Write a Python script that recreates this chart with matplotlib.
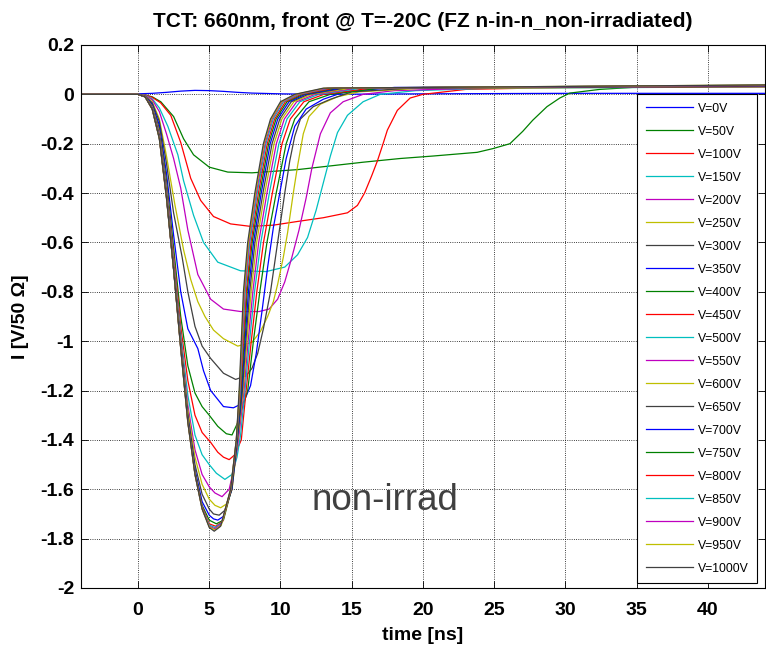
import matplotlib
matplotlib.use("Agg")
import matplotlib.pyplot as plt
from matplotlib.ticker import FormatStrFormatter

plt.rcParams['font.family'] = ['Liberation Sans', 'DejaVu Sans']
plt.rcParams['axes.unicode_minus'] = False

# bias voltages (legend) and the traces: time [ns], current [V/50 Ohm]
voltages = [0, 50, 100, 150, 200, 250, 300, 350, 400, 450, 500,
            550, 600, 650, 700, 750, 800, 850, 900, 950, 1000]

t_0 = [-4, 0, 1, 2, 3, 4, 5, 6, 7, 8, 10, 13, 20, 30, 44]
i_0 = [0.002, 0.002, 0.004, 0.008, 0.013, 0.016, 0.015, 0.012, 0.008, 0.005, 0.002, 0.0, 0.002, 0.004, 0.004]

t_50 = [-4, 0, 0.5, 1.0, 1.6, 2.5, 3.2, 3.9, 5.0, 6.3, 8.0, 11.2, 15.8, 18.4, 20.7, 23.8, 24.9, 26.1, 27.0, 27.7, 28.7, 29.6, 30.3, 32.4, 34.7, 44]
i_50 = [0, 0, -0.003, -0.01, -0.03, -0.09, -0.18, -0.245, -0.295, -0.315, -0.318, -0.305, -0.275, -0.26, -0.25, -0.235, -0.22, -0.2, -0.15, -0.105, -0.05, -0.015, 0.005, 0.02, 0.028, 0.032]

t_100 = [-4, 0, 0.5, 1.0, 1.6, 2.3, 3.0, 3.7, 4.4, 5.3, 6.5, 7.9, 9.5, 11.2, 13.0, 14.7, 15.4, 15.9, 16.4, 16.8, 17.2, 17.5, 18.2, 19.1, 20.0, 23.0, 30.0, 44]
i_100 = [0, 0, -0.003, -0.012, -0.035, -0.085, -0.195, -0.34, -0.43, -0.495, -0.525, -0.535, -0.53, -0.515, -0.5, -0.48, -0.45, -0.4, -0.33, -0.27, -0.2, -0.145, -0.065, -0.015, 0.0, 0.02, 0.028, 0.032]

t_150 = [-4, 0, 0.5, 1.0, 1.5, 2.1, 2.8, 3.2, 3.9, 4.6, 5.6, 7.2, 9.0, 10.3, 11.2, 11.9, 12.5, 13.0, 13.5, 14.0, 14.7, 15.8, 17.0, 19.5, 25, 44]
i_150 = [0, 0, -0.004, -0.018, -0.055, -0.13, -0.245, -0.35, -0.49, -0.6, -0.68, -0.715, -0.718, -0.7, -0.65, -0.58, -0.47, -0.36, -0.25, -0.155, -0.085, -0.03, 0.0, 0.015, 0.025, 0.03]

t_200 = [-4, 0, 0.5, 1.0, 1.5, 2.0, 2.5, 3.0, 3.5, 4.2, 5.1, 6.0, 7.2, 8.5, 9.2, 9.8, 10.3, 10.8, 11.3, 11.8, 12.2, 12.8, 13.5, 14.4, 15.8, 18, 25, 44]
i_200 = [0, 0, -0.005, -0.022, -0.07, -0.16, -0.26, -0.38, -0.55, -0.73, -0.83, -0.87, -0.88, -0.88, -0.87, -0.83, -0.76, -0.66, -0.55, -0.42, -0.3, -0.16, -0.075, -0.03, 0.0, 0.015, 0.027, 0.03]

t_250 = [-4, 0, 0.5, 1.0, 1.5, 2.0, 2.6, 3.2, 3.7, 4.2, 4.7, 5.3, 6.0, 7.0, 8.0, 8.6, 9.1, 9.5, 9.8, 10.2, 10.5, 10.9, 11.2, 11.6, 12.0, 12.8, 14.0, 15.5, 20, 44]
i_250 = [0, 0, -0.006, -0.03, -0.1, -0.25, -0.45, -0.63, -0.75, -0.84, -0.9, -0.955, -0.99, -1.02, -1.005, -0.96, -0.9, -0.84, -0.77, -0.66, -0.56, -0.4, -0.29, -0.16, -0.09, -0.04, -0.01, 0.01, 0.025, 0.03]

t_300 = [-4, 0, 0.5, 1.0, 1.5, 2.0, 2.5, 3.1, 3.5, 4.0, 4.5, 5.1, 6.0, 6.85, 7.6, 8.0, 8.4, 8.8, 9.3, 9.9, 10.3, 10.65, 11.0, 11.4, 12.3, 13.5, 15, 20, 44]
i_300 = [0, 0, -0.007, -0.035, -0.11, -0.28, -0.48, -0.66, -0.8, -0.94, -1.02, -1.07, -1.13, -1.155, -1.14, -1.11, -1.05, -0.95, -0.8, -0.56, -0.4, -0.27, -0.17, -0.1, -0.05, -0.02, 0.01, 0.028, 0.032]

t_350 = [-4, 0, 0.5, 1.0, 1.5, 2.0, 2.5, 3.0, 3.5, 4.2, 4.6, 5.1, 6.0, 6.7, 7.4, 7.9, 8.3, 8.7, 9.1, 9.5, 9.95, 10.4, 11.0, 11.8, 13.0, 14.5, 18, 44]
i_350 = [0, 0, -0.008, -0.04, -0.125, -0.32, -0.57, -0.8, -0.95, -1.03, -1.12, -1.2, -1.265, -1.27, -1.25, -1.18, -1.05, -0.88, -0.7, -0.54, -0.4, -0.26, -0.13, -0.06, -0.02, 0.01, 0.028, 0.032]

t_400 = [-4, 0, 0.5, 1.0, 1.5, 2.0, 2.5, 3.0, 3.5, 4.0, 4.5, 5.0, 5.6, 6.2, 6.6, 7.0, 7.7, 8.1, 8.55, 9.05, 9.7, 10.4, 11.0, 12.0, 13.5, 17.0, 44]
i_400 = [0, 0, -0.009, -0.045, -0.14, -0.35, -0.62, -0.9, -1.1, -1.21, -1.265, -1.3, -1.345, -1.375, -1.38, -1.33, -1.2, -1.0, -0.8, -0.6, -0.4, -0.2, -0.1, -0.03, 0.0, 0.025, 0.033]

t_450 = [-4, 0, 0.5, 1.0, 1.5, 2.0, 2.5, 3.0, 3.5, 4.0, 4.5, 5.1, 5.6, 6.0, 6.4, 6.8, 7.25, 7.59, 7.95, 8.34, 8.81, 9.43, 10.11, 10.69, 11.64, 13.05, 16.3, 44]
i_450 = [0, 0, -0.009, -0.048, -0.15, -0.37, -0.65, -0.94, -1.16, -1.3, -1.37, -1.41, -1.45, -1.47, -1.48, -1.46, -1.4, -1.2, -1.0, -0.8, -0.6, -0.4, -0.2, -0.1, -0.03, 0.0, 0.025, 0.033]

t_500 = [-4, 0, 0.5, 1.0, 1.5, 2.0, 2.5, 3.0, 3.5, 4.0, 4.5, 5.0, 5.5, 6.1, 6.6, 6.95, 7.2, 7.51, 7.83, 8.18, 8.62, 9.22, 9.89, 10.46, 11.36, 12.7, 15.7, 44]
i_500 = [0, 0, -0.01, -0.05, -0.155, -0.38, -0.67, -0.97, -1.22, -1.38, -1.46, -1.5, -1.535, -1.56, -1.54, -1.47, -1.38, -1.2, -1.0, -0.8, -0.6, -0.4, -0.2, -0.1, -0.03, 0.0, 0.025, 0.034]

t_550 = [-4, 0, 0.5, 1.0, 1.5, 2.0, 2.5, 3.0, 3.5, 4.0, 4.5, 5.0, 5.4, 5.9, 6.4, 6.8, 7.05, 7.44, 7.73, 8.06, 8.47, 9.05, 9.71, 10.27, 11.14, 12.43, 15.3, 44]
i_550 = [0, 0, -0.01, -0.052, -0.16, -0.39, -0.68, -0.99, -1.26, -1.44, -1.54, -1.59, -1.615, -1.63, -1.6, -1.5, -1.4, -1.2, -1.0, -0.8, -0.6, -0.4, -0.2, -0.1, -0.03, 0.0, 0.025, 0.034]

t_600 = [-4, 0, 0.5, 1.0, 1.5, 2.0, 2.5, 3.0, 3.5, 4.0, 4.5, 5.0, 5.4, 5.8, 6.2, 6.6, 7.0, 7.38, 7.65, 7.94, 8.33, 8.9, 9.55, 10.1, 10.94, 12.18, 14.9, 44]
i_600 = [0, 0, -0.01, -0.054, -0.165, -0.4, -0.69, -1.0, -1.28, -1.47, -1.58, -1.64, -1.665, -1.675, -1.66, -1.6, -1.4, -1.2, -1.0, -0.8, -0.6, -0.4, -0.2, -0.1, -0.03, 0.0, 0.025, 0.035]

t_650 = [-4, 0, 0.5, 1.0, 1.5, 2.0, 2.5, 3.0, 3.5, 4.0, 4.5, 5.0, 5.3, 5.7, 6.1, 6.6, 6.98, 7.33, 7.57, 7.84, 8.21, 8.77, 9.41, 9.95, 10.76, 11.95, 14.5, 44]
i_650 = [0, 0, -0.01, -0.056, -0.17, -0.405, -0.7, -1.01, -1.3, -1.5, -1.62, -1.68, -1.7, -1.705, -1.685, -1.6, -1.4, -1.2, -1.0, -0.8, -0.6, -0.4, -0.2, -0.1, -0.03, 0.0, 0.025, 0.035]

t_700 = [-4, 0, 0.5, 1.0, 1.5, 2.0, 2.5, 3.0, 3.5, 4.0, 4.5, 5.0, 5.3, 5.6, 6.0, 6.58, 6.96, 7.28, 7.51, 7.75, 8.11, 8.65, 9.28, 9.81, 10.6, 11.75, 14.2, 44]
i_700 = [0, 0, -0.01, -0.057, -0.172, -0.41, -0.705, -1.015, -1.31, -1.52, -1.65, -1.705, -1.72, -1.725, -1.71, -1.6, -1.4, -1.2, -1.0, -0.8, -0.6, -0.4, -0.2, -0.1, -0.03, 0.0, 0.025, 0.035]

t_750 = [-4, 0, 0.5, 1.0, 1.5, 2.0, 2.5, 3.0, 3.5, 4.0, 4.5, 5.0, 5.5, 6.0, 6.56, 6.94, 7.24, 7.45, 7.66, 8.01, 8.55, 9.17, 9.69, 10.46, 11.58, 13.9, 44]
i_750 = [0, 0, -0.01, -0.058, -0.174, -0.412, -0.707, -1.02, -1.315, -1.53, -1.665, -1.725, -1.74, -1.725, -1.6, -1.4, -1.2, -1.0, -0.8, -0.6, -0.4, -0.2, -0.1, -0.03, 0.0, 0.025, 0.036]

t_800 = [-4, 0, 0.5, 1.0, 1.5, 2.0, 2.5, 3.0, 3.5, 4.0, 4.5, 5.0, 5.45, 5.95, 6.54, 6.92, 7.2, 7.39, 7.6, 7.93, 8.45, 9.07, 9.59, 10.34, 11.43, 13.7, 44]
i_800 = [0, 0, -0.01, -0.059, -0.176, -0.415, -0.708, -1.025, -1.32, -1.535, -1.67, -1.74, -1.75, -1.73, -1.6, -1.4, -1.2, -1.0, -0.8, -0.6, -0.4, -0.2, -0.1, -0.03, 0.0, 0.025, 0.036]

t_850 = [-4, 0, 0.5, 1.0, 1.5, 2.0, 2.5, 3.0, 3.5, 4.0, 4.5, 5.0, 5.4, 5.9, 6.52, 6.91, 7.17, 7.34, 7.53, 7.85, 8.37, 8.98, 9.49, 10.22, 11.28, 13.4, 44]
i_850 = [0, 0, -0.01, -0.059, -0.178, -0.417, -0.709, -1.027, -1.325, -1.538, -1.675, -1.745, -1.755, -1.735, -1.6, -1.4, -1.2, -1.0, -0.8, -0.6, -0.4, -0.2, -0.1, -0.03, 0.0, 0.025, 0.037]

t_900 = [-4, 0, 0.5, 1.0, 1.5, 2.0, 2.5, 3.0, 3.5, 4.0, 4.5, 5.0, 5.4, 5.85, 6.51, 6.9, 7.14, 7.31, 7.48, 7.79, 8.3, 8.91, 9.41, 10.13, 11.17, 13.3, 44]
i_900 = [0, 0, -0.01, -0.06, -0.179, -0.419, -0.71, -1.028, -1.328, -1.54, -1.678, -1.75, -1.76, -1.74, -1.6, -1.4, -1.2, -1.0, -0.8, -0.6, -0.4, -0.2, -0.1, -0.03, 0.0, 0.025, 0.037]

t_950 = [-4, 0, 0.5, 1.0, 1.5, 2.0, 2.5, 3.0, 3.5, 4.0, 4.5, 5.0, 5.4, 5.85, 6.5, 6.9, 7.12, 7.28, 7.44, 7.75, 8.25, 8.85, 9.36, 10.07, 11.08, 13.1, 44]
i_950 = [0, 0, -0.01, -0.06, -0.18, -0.42, -0.71, -1.03, -1.33, -1.54, -1.68, -1.752, -1.765, -1.745, -1.6, -1.4, -1.2, -1.0, -0.8, -0.6, -0.4, -0.2, -0.1, -0.03, 0.0, 0.025, 0.038]

t_1000 = [-4, 0, 0.5, 1.0, 1.5, 2.0, 2.5, 3.0, 3.5, 4.0, 4.5, 5.0, 5.35, 5.8, 6.5, 6.9, 7.1, 7.25, 7.4, 7.7, 8.2, 8.8, 9.3, 10.0, 11.0, 13.0, 44]
i_1000 = [0, 0, -0.01, -0.06, -0.18, -0.42, -0.71, -1.03, -1.33, -1.54, -1.68, -1.755, -1.77, -1.75, -1.6, -1.4, -1.2, -1.0, -0.8, -0.6, -0.4, -0.2, -0.1, -0.03, 0.0, 0.025, 0.038]

traces = [(t_0, i_0), (t_50, i_50), (t_100, i_100), (t_150, i_150), (t_200, i_200),
          (t_250, i_250), (t_300, i_300), (t_350, i_350), (t_400, i_400), (t_450, i_450),
          (t_500, i_500), (t_550, i_550), (t_600, i_600), (t_650, i_650), (t_700, i_700),
          (t_750, i_750), (t_800, i_800), (t_850, i_850), (t_900, i_900), (t_950, i_950),
          (t_1000, i_1000)]

# old matlab colour order b g r c m y k
colors = [(0, 0, 1), (0, 0.5, 0), (1, 0, 0), (0, 0.75, 0.75),
          (0.75, 0, 0.75), (0.75, 0.75, 0), (0.25, 0.25, 0.25)]

fig = plt.figure(figsize=(7.66, 6.46), dpi=100)
ax = fig.add_axes([0.1057, 0.0898, 0.8930, 0.8406])

for k, (v, (t, i)) in enumerate(zip(voltages, traces)):
    ax.plot(t, i, color=colors[k % 7], lw=0.9, label="V=%dV" % v)

ax.set_xlim(-4, 44)
ax.set_ylim(-2, 0.2)
ax.set_xticks(range(0, 45, 5))
ax.set_yticks([0.2, 0, -0.2, -0.4, -0.6, -0.8, -1, -1.2, -1.4, -1.6, -1.8, -2])
ax.yaxis.set_major_formatter(FormatStrFormatter('%g'))
ax.grid(True, color='black', linestyle=':', linewidth=0.6)
ax.tick_params(direction='in', top=True, right=True, length=5, width=0.6)
ax.tick_params(axis='x', pad=10)
ax.tick_params(axis='y', pad=5)
for lab in ax.get_xticklabels() + ax.get_yticklabels():
    lab.set_fontsize(14)
    lab.set_fontweight('bold')
for s in ax.spines.values():
    s.set_linewidth(0.8)

ax.set_title("TCT: 660nm, front @ T=-20C (FZ n-in-n_non-irradiated)",
             fontsize=15, fontweight='bold', pad=13)
ax.set_xlabel("time [ns]", fontsize=14, fontweight='bold', labelpad=6)
ax.set_ylabel("I [V/50 Ω]", fontsize=14, fontweight='bold', labelpad=8)

ax.text(12.2, -1.645, "non-irrad", fontsize=26.5, color='#404040', ha='left', va='center')

leg = ax.legend(loc='upper left', bbox_to_anchor=(0.8316, 0.8545), bbox_transform=fig.transFigure,
                fontsize=8.8, labelspacing=0.9, handlelength=3.9, handletextpad=0.4,
                borderpad=0.7, borderaxespad=0, fancybox=False, framealpha=1)
leg.get_frame().set_edgecolor('black')
leg.get_frame().set_linewidth(0.8)

fig.savefig("out.png", dpi=100)
